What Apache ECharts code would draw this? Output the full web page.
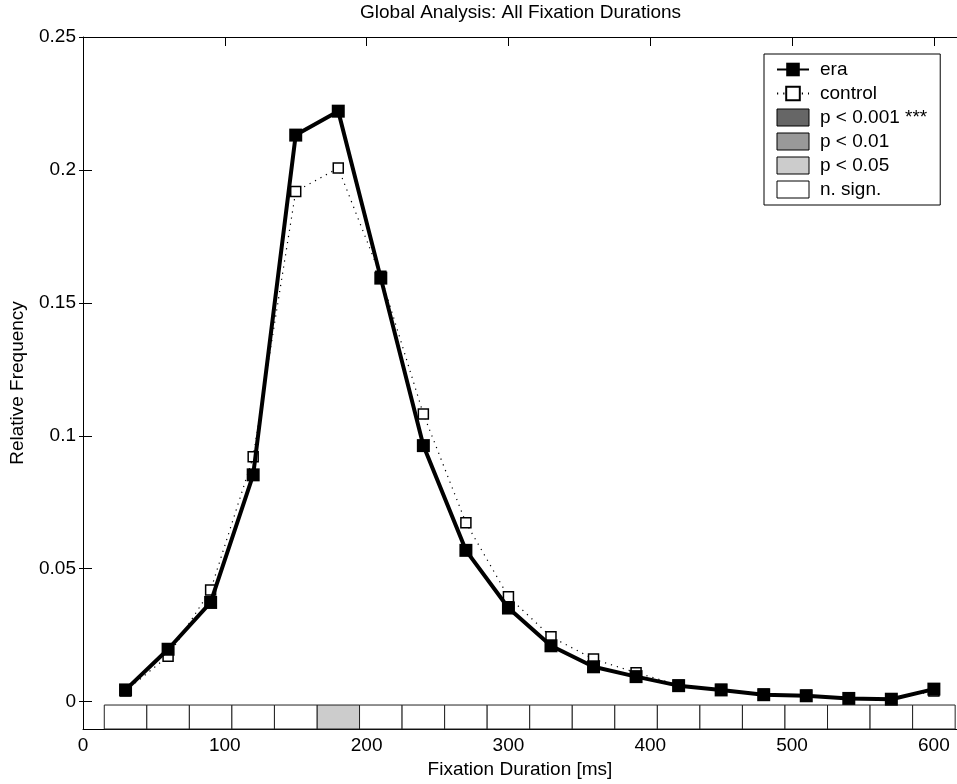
<!DOCTYPE html>
<html>
<head>
<meta charset="utf-8">
<script src="https://cdn.jsdelivr.net/npm/echarts@6/dist/echarts.min.js"></script>
<style>html,body{margin:0;padding:0;background:#fff;}#c{width:957px;height:784px;}</style>
</head>
<body>
<div id="c"></div>
<script>
// ---- data ----
var durations = [30, 60, 90, 120, 150, 180, 210, 240, 270, 300, 330, 360, 390, 420, 450, 480, 510, 540, 570, 600];
var eraValues = [0.0044, 0.0197, 0.0373, 0.0853, 0.2131, 0.2221, 0.1593, 0.0963, 0.0569, 0.0352, 0.0210, 0.0131, 0.0094, 0.0060, 0.0044, 0.0026, 0.0022, 0.0012, 0.0009, 0.0047];
var controlValues = [0.0040, 0.0171, 0.0420, 0.0921, 0.1919, 0.2007, 0.1600, 0.1082, 0.0673, 0.0394, 0.0244, 0.0160, 0.0109, 0.0062, 0.0046, 0.0028, 0.0024, 0.0014, 0.0010, 0.0040];
var significance = ['n. sign.', 'n. sign.', 'n. sign.', 'n. sign.', 'n. sign.', 'p < 0.05', 'n. sign.', 'n. sign.', 'n. sign.', 'n. sign.',
                    'n. sign.', 'n. sign.', 'n. sign.', 'n. sign.', 'n. sign.', 'n. sign.', 'n. sign.', 'n. sign.', 'n. sign.', 'n. sign.'];
var sigLevels = ['p < 0.001 ***', 'p < 0.01', 'p < 0.05', 'n. sign.'];
var sigKeys = ['p < 0.001', 'p < 0.01', 'p < 0.05', 'n. sign.'];
var sigColors = ['#666666', '#999999', '#cccccc', '#ffffff'];
var binWidth = 30;
var xTicks = [0, 100, 200, 300, 400, 500, 600];
var yTicks = [0, 0.05, 0.1, 0.15, 0.2, 0.25];

var FONT = 'Liberation Sans, Arial, Helvetica, sans-serif';
var Y_MIN = -0.0103, Y_MAX = 0.25, X_MIN = 0, X_MAX = 616.3;
var BOX_TOP = -0.00128;

var chart = echarts.init(document.getElementById('c'), null, {renderer: 'canvas'});

function pair(a, b) { return a.map(function (v, i) { return [v, b[i]]; }); }

var boxSeries = sigLevels.map(function (lvl, li) {
  var data = [];
  durations.forEach(function (d, i) {
    if (significance[i] === sigKeys[li]) data.push([d]);
  });
  return {
    name: lvl,
    type: 'custom',
    z: 3,
    silent: true,
    itemStyle: {color: sigColors[li], borderColor: '#000', borderWidth: 1},
    renderItem: function (params, api) {
      var x = api.value(0);
      var p1 = api.coord([x - binWidth / 2, BOX_TOP]);
      var p2 = api.coord([x + binWidth / 2, Y_MIN]);
      return {
        type: 'rect',
        shape: {x: p1[0], y: p1[1], width: p2[0] - p1[0], height: p2[1] - p1[1]},
        style: {fill: sigColors[li], stroke: '#222', lineWidth: 1}
      };
    },
    data: data
  };
});

var tickStyle = {show: true, inside: true, length: 9, lineStyle: {color: '#000'}};
var lineStyleAxis = {show: true, onZero: false, lineStyle: {color: '#000', width: 1}};

var option = {
  animation: false,
  backgroundColor: '#fff',
  title: {
    text: 'Global Analysis: All Fixation Durations',
    left: 360, top: 3, padding: 0,
    textStyle: {fontFamily: FONT, fontSize: 19, fontWeight: 'normal', color: '#000'}
  },
  grid: {left: 83, right: 0, top: 37, bottom: 53, containLabel: false},
  legend: {
    orient: 'vertical',
    left: 764, top: 54,
    padding: [6, 13, 6, 12],
    itemWidth: 32, itemHeight: 17, itemGap: 5,
    backgroundColor: '#fff',
    borderColor: '#000', borderWidth: 1, borderRadius: 0,
    textStyle: {fontFamily: FONT, fontSize: 19, color: '#000', padding: [0, 0, 0, 6]},
    data: [
      {name: 'era'},
      {name: 'control'},
      {name: sigLevels[0], icon: 'rect', itemStyle: {color: sigColors[0], borderColor: '#000', borderWidth: 1}},
      {name: sigLevels[1], icon: 'rect', itemStyle: {color: sigColors[1], borderColor: '#000', borderWidth: 1}},
      {name: sigLevels[2], icon: 'rect', itemStyle: {color: sigColors[2], borderColor: '#000', borderWidth: 1}},
      {name: sigLevels[3], icon: 'rect', itemStyle: {color: sigColors[3], borderColor: '#000', borderWidth: 1}}
    ],
    selectedMode: false
  },
  xAxis: [
    {
      type: 'value', min: X_MIN, max: X_MAX, position: 'bottom',
      splitLine: {show: false}, axisLine: lineStyleAxis,
      axisTick: Object.assign({customValues: xTicks}, tickStyle),
      name: 'Fixation Duration [ms]', nameLocation: 'middle', nameGap: 31,
      nameTextStyle: {fontFamily: FONT, fontSize: 19, color: '#000'},
      axisLabel: {show: true, customValues: xTicks, margin: 7, fontFamily: FONT, fontSize: 19, color: '#000'}
    },
    {
      type: 'value', min: X_MIN, max: X_MAX, position: 'top',
      splitLine: {show: false}, axisLine: lineStyleAxis,
      axisTick: Object.assign({customValues: xTicks}, tickStyle),
      axisLabel: {show: false}
    }
  ],
  yAxis: [
    {
      type: 'value', min: Y_MIN, max: Y_MAX, position: 'left',
      splitLine: {show: false}, axisLine: lineStyleAxis,
      axisTick: Object.assign({customValues: yTicks}, tickStyle),
      name: 'Relative Frequency', nameLocation: 'middle', nameGap: 56, nameRotate: 90,
      nameTextStyle: {fontFamily: FONT, fontSize: 19, color: '#000'},
      axisLabel: {show: true, customValues: yTicks, margin: 7, fontFamily: FONT, fontSize: 19, color: '#000'}
    },
    {
      type: 'value', min: Y_MIN, max: Y_MAX, position: 'right',
      splitLine: {show: false}, axisLine: {show: false},
      axisTick: Object.assign({customValues: yTicks}, tickStyle, {length: 4}),
      axisLabel: {show: false}
    }
  ],
  series: boxSeries.concat([
    {
      name: 'control', type: 'line', z: 4,
      data: pair(durations, controlValues),
      symbol: 'rect', symbolSize: 10,
      itemStyle: {color: '#fff', borderColor: '#000', borderWidth: 1.5},
      lineStyle: {color: '#000', width: 1.2, type: [1.2, 5]}
    },
    {
      name: 'era', type: 'line', z: 5,
      data: pair(durations, eraValues),
      symbol: 'rect', symbolSize: 13,
      itemStyle: {color: '#000'},
      lineStyle: {color: '#000', width: 4}
    }
  ])
};
chart.setOption(option);
</script>
</body>
</html>
